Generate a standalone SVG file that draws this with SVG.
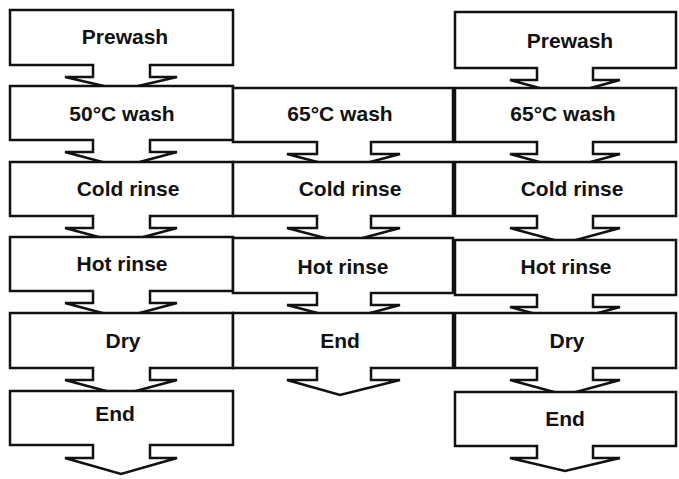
<svg xmlns="http://www.w3.org/2000/svg" width="679" height="479" viewBox="0 0 679 479">
<style>
path{fill:#fff;stroke:#111;stroke-width:2.5;stroke-linejoin:miter}
text{font-family:"Liberation Sans",Arial,sans-serif;font-weight:bold;font-size:21px;text-anchor:middle;fill:#111}
</style>
<rect width="679" height="479" fill="#fff"/>
<g id="connectors"></g>
<g id="c1">
<g id="c1prewash"><path d="M10 10H233V65H150V77H177L121 90L65 77H93V65H10Z"/><text x="125" y="44">Prewash</text></g>
<g id="c1wash"><path d="M10 86H233V140H150V152H177L121 167L65 152H93V140H10Z"/><text x="122" y="121">50°C wash</text></g>
<g id="c1cold"><path d="M10 162H233V216H150V228H177L121 243L65 228H93V216H10Z"/><text x="128" y="196">Cold rinse</text></g>
<g id="c1hot"><path d="M10 237H233V291H150V303H177L121 318L65 303H93V291H10Z"/><text x="122" y="271">Hot rinse</text></g>
<g id="c1dry"><path d="M10 313H233V368H150V380H177L121 395L65 380H93V368H10Z"/><text x="123" y="348">Dry</text></g>
<g id="c1end"><path d="M10 391H233V445H150V458H177L121 474L65 458H93V445H10Z"/><text x="115" y="421">End</text></g>
</g>
<g id="c2">
<g id="c2wash"><path d="M233 88H453V142H371V154H400L344 169L287 154H317V142H233Z"/><text x="340" y="121">65°C wash</text></g>
<g id="c2cold"><path d="M233 162H453V216H371V228H400L344 243L287 228H317V216H233Z"/><text x="350" y="196">Cold rinse</text></g>
<g id="c2hot"><path d="M233 238H453V293H371V305H400L344 320L287 305H317V293H233Z"/><text x="343" y="274">Hot rinse</text></g>
<g id="c2end"><path d="M233 313H453V368H371V380H400L340 395L287 380H317V368H233Z"/><text x="340" y="348">End</text></g>
</g>
<g id="c3">
<g id="c3prewash"><path d="M455 12H676V68H593V80H620L565 95L510 80H537V68H455Z"/><text x="570" y="48">Prewash</text></g>
<g id="c3wash"><path d="M455 88H676V142H593V154H620L565 169L510 154H537V142H455Z"/><text x="563" y="121">65°C wash</text></g>
<g id="c3cold"><path d="M455 162H676V216H593V228H620L565 243L510 228H537V216H455Z"/><text x="572" y="196">Cold rinse</text></g>
<g id="c3hot"><path d="M455 240H676V295H593V307H620L565 322L510 307H537V295H455Z"/><text x="566" y="274">Hot rinse</text></g>
<g id="c3dry"><path d="M455 313H676V368H593V380H620L565 395L510 380H537V368H455Z"/><text x="567" y="348">Dry</text></g>
<g id="c3end"><path d="M455 392H676V446H593V458H620L565 471L510 458H537V446H455Z"/><text x="565" y="426">End</text></g>
</g>
</svg>
